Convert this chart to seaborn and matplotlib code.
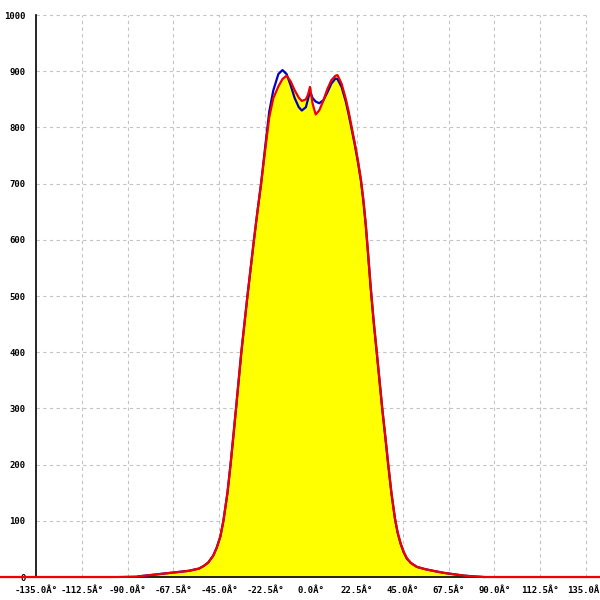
"""
Angular distribution plot: two overlaid curves with yellow fill.
"""

import pandas as pd
import matplotlib
matplotlib.use("Agg")
import matplotlib.pyplot as plt
import seaborn as sns

# angles in degrees (red curve spans the whole width)
angles = [-155, -95, -85, -80, -75, -70, -65, -60, -55, -52.5,
          -50.4, -48, -46.3, -44.5, -43, -41, -39.5, -38, -36.8, -35.5,
          -34.2, -32.7, -31.2, -29.6, -28, -26.3, -24.5, -22.5, -20.5, -18.5,
          -16, -14, -12, -10, -8, -6, -4.5, -2.5, -1.5, -0.5,
          0.8, 2.3, 4, 6, 8, 10, 12, 13, 15, 17,
          18.5, 20, 21.5, 23, 24.5, 25.7, 26.85, 28, 29.3, 30.8,
          32.25, 33.6, 35, 36.5, 37.95, 39.5, 41.2, 42.5, 44, 45.5,
          47, 49, 52, 56, 60, 65, 70, 75, 80, 85, 145]
red_vals = [0, 0, 1, 3, 5, 7, 9, 11, 15, 20,
            26, 38, 52, 72, 100, 150, 200, 255, 300, 350,
            400, 450, 500, 550, 600, 650, 700, 760, 818, 852,
            873, 886, 892, 882, 866, 853, 847, 850, 858, 872,
            842, 823, 830, 847, 868, 884, 892, 893, 878, 852,
            828, 800, 772, 742, 708, 672, 630, 578, 517, 455,
            402, 352, 300, 250, 200, 150, 105, 80, 60, 45,
            34, 25, 18, 14, 11, 7.5, 5, 2.5, 1, 0, 0]

# blue curve only spans about -85..85
blue_angles = angles[2:-1]
blue_vals = [1, 3, 5, 7, 9, 11, 15, 20,
             26, 38, 52, 72, 100, 150, 200, 255, 300, 350,
             400, 450, 500, 550, 600, 650, 700, 765, 828, 866,
             895, 902, 895, 875, 852, 836, 830, 836, 850, 864,
             852, 846, 843, 848, 862, 878, 887, 886, 872, 847,
             823, 796, 769, 739, 705, 669, 627, 575, 514, 452,
             400, 350, 298, 248, 198, 148, 104, 79, 59, 44,
             33, 25, 18, 14, 11, 7.5, 5, 2.5, 1, 0]

x_ticks = [-135.0, -112.5, -90.0, -67.5, -45.0, -22.5, 0.0, 22.5, 45.0, 67.5, 90.0, 112.5, 135.0]
y_ticks = [0, 100, 200, 300, 400, 500, 600, 700, 800, 900, 1000]

red = pd.DataFrame({"angle": angles, "count": red_vals})
blue = pd.DataFrame({"angle": blue_angles, "count": blue_vals})

sns.set_style("white")
plt.rcParams["axes.unicode_minus"] = False

fig = plt.figure(figsize=(6, 6), dpi=100)
ax = fig.add_axes([0, 0, 1, 1])
ax.set_xlim(-152.67, 141.87)
ax.set_ylim(-40.9, 1026.7)

# dashed grid limited to the tick range
grid_kw = dict(color="#c4c4c4", linewidth=0.8, linestyles=(0, (3, 3)), zorder=0)
ax.hlines(y_ticks[1:], x_ticks[0], x_ticks[-1], **grid_kw)
ax.vlines(x_ticks[1:], y_ticks[0], y_ticks[-1], **grid_kw)

ax.fill_between(red["angle"], red["count"], 0, color="#ffff00", linewidth=0, zorder=1)
sns.lineplot(data=blue, x="angle", y="count", color="#0000c0", linewidth=1.6,
             ax=ax, zorder=2)
sns.lineplot(data=red, x="angle", y="count", color="#ee0000", linewidth=1.6,
             ax=ax, zorder=3)

# axes through the data origin
for side in ["top", "right"]:
    ax.spines[side].set_visible(False)
ax.spines["left"].set_position(("data", -135))
ax.spines["bottom"].set_position(("data", 0))
ax.spines["left"].set_bounds(0, 1000)
ax.spines["bottom"].set_bounds(-135, 135)
for side in ["left", "bottom"]:
    ax.spines[side].set_color("black")
    ax.spines[side].set_linewidth(1.2)
    ax.spines[side].set_zorder(1.5)

ax.set_xticks(x_ticks)
ax.set_xticklabels([f"{t:.1f}Â°" for t in x_ticks])
ax.set_yticks(y_ticks)
ax.set_yticklabels([str(t) for t in y_ticks])
ax.tick_params(axis="both", direction="inout", length=5, width=1.2, color="black",
               labelsize=6.5, labelcolor="black")
ax.tick_params(axis="x", pad=4)
ax.tick_params(axis="y", pad=5)
for lab in ax.get_xticklabels() + ax.get_yticklabels():
    lab.set_fontfamily("DejaVu Sans Mono")
    lab.set_fontweight("bold")
ax.set_xlabel("")
ax.set_ylabel("")

fig.savefig("out.png", dpi=100)
plt.close(fig)
